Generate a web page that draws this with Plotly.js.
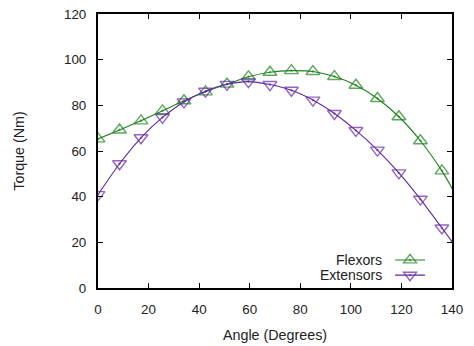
<!DOCTYPE html>
<html>
<head>
<meta charset="utf-8">
<script src="https://cdn.plot.ly/plotly-3.0.1.min.js"></script>
<style>html,body{margin:0;padding:0;background:#fff;}#chart{width:474px;height:346px;}</style>
</head>
<body>
<div id="chart"></div>
<script>
// Data
const angles = [0, 8.5, 17, 25.5, 34, 42.5, 51, 59.5, 68, 76.5, 85, 93.5, 102, 110.5, 119, 127.5, 136];
const flexors = [65.3, 69.2, 73.2, 77.6, 82, 85.9, 89.3, 92.5, 94.5, 95.2, 94.8, 92.6, 88.8, 83, 75, 64.5, 51.3];
const extensors = [40.9, 54.4, 65.8, 74.7, 81.5, 86.2, 89.2, 90.4, 89.1, 86.6, 82.3, 76.4, 69, 60.4, 50.4, 38.9, 26.3];
// Curve end at the right edge of the plot (no marker there)
const endAngle = 140;
const flexorsEnd = 43.8;
const extensorsEnd = 20.3;
const seriesNames = ['Flexors', 'Extensors'];
const xTicks = [0, 20, 40, 60, 80, 100, 120, 140];
const yTicks = [0, 20, 40, 60, 80, 100, 120];

const green = '#1B821B';
const purple = '#6226A8';
const fam = 'Liberation Sans, Arial, sans-serif';
const tickFont = {family: fam, size: 13.4, color: '#222'};
const titleFont = {family: fam, size: 14.3, color: '#222'};
const legFont = {family: fam, size: 14, color: '#222'};

const xs = angles.concat([endAngle]);
const sizes = angles.map(() => 12).concat([0]);

function series(y, yEnd, name, symbol, color, legendId) {
  return {x: xs, y: y.concat([yEnd]), name: ' ', legend: legendId, mode: 'lines+markers', type: 'scatter',
          hoverinfo: 'skip', cliponaxis: true,
          line: {color: color, width: 1.1, shape: 'spline', smoothing: 0.6},
          marker: {symbol: symbol, size: sizes, color: color, line: {width: 1.4, color: color}}};
}
const traces = [
  series(flexors, flexorsEnd, seriesNames[0], 'triangle-up-open-dot', green, 'legend'),
  series(extensors, extensorsEnd, seriesNames[1], 'triangle-down-open-dot', purple, 'legend2')
];

const axisCommon = {
  showgrid: false, zeroline: false, showline: true, linecolor: '#000', linewidth: 2, mirror: 'ticks',
  ticks: 'inside', ticklen: 5, tickwidth: 1, tickcolor: '#000', tickfont: tickFont
};
const legendCommon = {xanchor: 'left', yanchor: 'middle', bgcolor: 'rgba(0,0,0,0)', borderwidth: 0,
                      font: {family: fam, size: 8}, x: 0.825};
const yLeg1 = 0.102, yLeg2 = 0.047;
const layout = {
  width: 474, height: 346,
  margin: {l: 98, r: 22, t: 14, b: 58},
  paper_bgcolor: '#fff', plot_bgcolor: '#fff',
  font: tickFont,
  showlegend: true,
  legend: Object.assign({}, legendCommon, {y: yLeg1}),
  legend2: Object.assign({}, legendCommon, {y: yLeg2}),
  annotations: [
    {text: seriesNames[0], xref: 'paper', yref: 'paper', x: 0.805, y: yLeg1, xanchor: 'right', yanchor: 'middle',
     showarrow: false, font: legFont, borderpad: 0},
    {text: seriesNames[1], xref: 'paper', yref: 'paper', x: 0.805, y: yLeg2, xanchor: 'right', yanchor: 'middle',
     showarrow: false, font: legFont, borderpad: 0}
  ],
  xaxis: Object.assign({}, axisCommon, {range: [0, 140], tickvals: xTicks, ticktext: xTicks.map(String),
          ticklabelstandoff: 8, title: {text: 'Angle (Degrees)', font: titleFont, standoff: 14}}),
  yaxis: Object.assign({}, axisCommon, {range: [0, 120], tickvals: yTicks, ticktext: yTicks.map(String),
          ticklabelstandoff: 7, title: {text: 'Torque (Nm)', font: titleFont, standoff: 36}})
};
Plotly.newPlot('chart', traces, layout, {displayModeBar: false, staticPlot: true});
</script>
</body>
</html>
